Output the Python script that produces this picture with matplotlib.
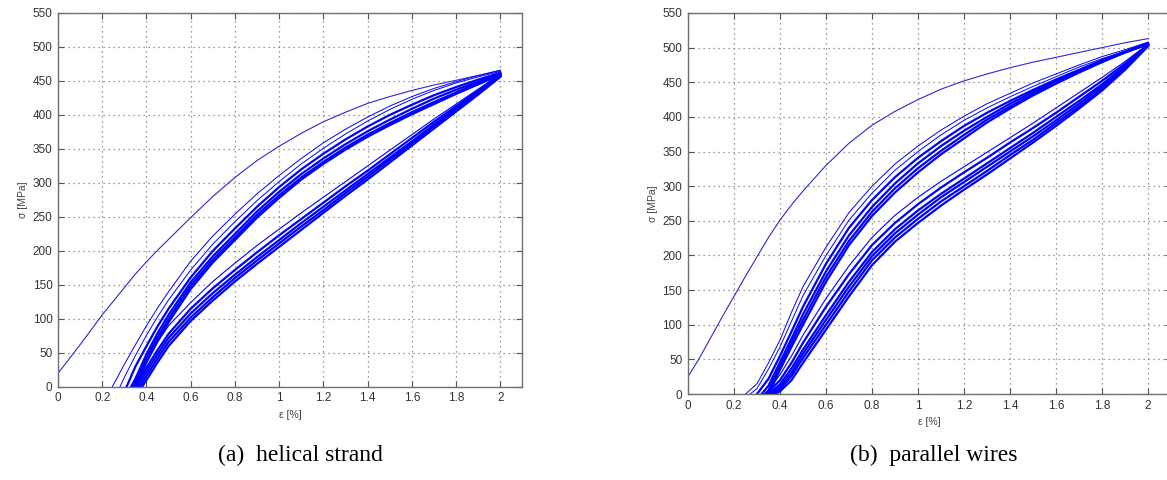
import numpy as np
import matplotlib
matplotlib.use('Agg')
import matplotlib.pyplot as plt

N = np.nan

# strain grid [%] shared by all loops (first loading has its own, starting at 0)
first_eps = [0.0, 0.05, 0.1, 0.15, 0.2, 0.25, 0.3, 0.35, 0.4, 0.45, 0.5, 0.6, 0.7,
             0.8, 0.9, 1.0, 1.1, 1.2, 1.3, 1.4, 1.5, 1.6, 1.7, 1.8, 1.9, 2.0]
loop_eps = [0.25, 0.3, 0.35, 0.4, 0.45, 0.5, 0.6, 0.7, 0.8, 0.9, 1.0,
            1.1, 1.2, 1.3, 1.4, 1.5, 1.6, 1.7, 1.8, 1.9, 2.0]

# (a) helical strand
first_a = [20, 41, 62, 84, 106, 126, 146, 166, 184, 201, 217, 249, 280, 308, 333,
           354, 373, 390, 404, 417, 427, 436, 444, 451, 458, 465]
reload_a_start = [0.245, 0.28, 0.31, 0.33, 0.34, 0.35]
reload_a = [
    [3, 33, 62, 90, 116, 140, 185, 222, 254, 284, 311, 336, 359, 379, 397, 413, 427, 439, 449, 458, 466],
    [N, 14, 46, 76, 103, 128, 172, 210, 243, 274, 302, 328, 351, 372, 391, 408, 423, 436, 447, 456, 464],
    [N, N, 30, 60, 89, 115, 161, 200, 233, 265, 294, 320, 343, 364, 383, 400, 415, 429, 441, 452, 462],
    [N, N, 12, 48, 79, 106, 154, 192, 225, 258, 287, 313, 336, 357, 376, 393, 409, 424, 437, 449, 461],
    [N, N, 6, 42, 73, 100, 149, 187, 220, 253, 282, 308, 331, 352, 371, 388, 404, 419, 433, 447, 460],
    [N, N, N, 36, 67, 95, 144, 183, 216, 249, 278, 305, 328, 349, 368, 385, 401, 416, 431, 445, 459],
]
unload_a_start = [0.33, 0.35, 0.36, 0.37, 0.38]
unload_a = [
    [N, N, 12, 40, 66, 90, 124, 155, 182, 208, 232, 256, 279, 302, 325, 348, 371, 394, 416, 438, 460],
    [N, N, N, 28, 54, 78, 115, 145, 172, 198, 223, 247, 271, 295, 318, 342, 366, 390, 413, 436, 459],
    [N, N, N, 22, 48, 72, 108, 138, 165, 191, 216, 241, 265, 289, 313, 337, 361, 386, 410, 434, 458],
    [N, N, N, 16, 42, 66, 102, 132, 160, 186, 211, 236, 260, 285, 309, 334, 358, 383, 408, 432, 457],
    [N, N, N, 10, 36, 60, 97, 127, 155, 181, 206, 231, 256, 281, 305, 330, 355, 380, 405, 430, 456],
]

# (b) parallel wires
first_b = [25, 52, 82, 112, 141, 170, 198, 226, 251, 273, 293, 330, 362, 388, 408,
           425, 440, 452, 462, 471, 479, 486, 493, 500, 507, 513]
reload_b_start = [0.25, 0.27, 0.30, 0.32, 0.335, 0.35]
reload_b = [
    [N, 15, 45, 78, 118, 155, 212, 262, 300, 332, 358, 381, 401, 419, 434, 449, 462, 475, 487, 497, 508],
    [N, 8, 36, 68, 105, 142, 200, 251, 290, 323, 350, 374, 395, 413, 429, 444, 458, 472, 484, 495, 507],
    [N, N, 22, 55, 90, 126, 188, 240, 280, 313, 341, 365, 387, 406, 423, 439, 454, 468, 482, 494, 506],
    [N, N, 12, 46, 80, 115, 177, 229, 270, 304, 333, 358, 380, 400, 419, 436, 452, 467, 481, 494, 506],
    [N, N, 5, 40, 74, 107, 169, 221, 263, 297, 326, 351, 374, 396, 415, 433, 450, 466, 480, 493, 505],
    [N, N, N, 35, 68, 100, 162, 215, 257, 291, 320, 346, 369, 392, 412, 431, 448, 464, 479, 493, 505],
]
unload_b_start = [0.33, 0.34, 0.35, 0.36, 0.37, 0.38]
unload_b = [
    [N, N, 6, 28, 55, 85, 138, 185, 226, 258, 284, 307, 328, 349, 370, 391, 413, 435, 457, 480, 505],
    [N, N, 3, 20, 45, 74, 126, 173, 215, 247, 274, 298, 320, 341, 363, 384, 406, 429, 452, 477, 504],
    [N, N, N, 14, 37, 64, 114, 162, 205, 238, 265, 289, 311, 333, 355, 377, 400, 423, 447, 474, 504],
    [N, N, N, 10, 31, 58, 107, 155, 199, 232, 259, 284, 306, 328, 350, 372, 395, 419, 444, 472, 503],
    [N, N, N, 7, 26, 52, 100, 148, 193, 226, 253, 278, 300, 322, 345, 367, 391, 415, 441, 470, 503],
    [N, N, N, 4, 20, 45, 93, 141, 186, 220, 247, 272, 295, 317, 340, 363, 387, 412, 438, 468, 502],
]

xtick_vals = [0, 0.2, 0.4, 0.6, 0.8, 1.0, 1.2, 1.4, 1.6, 1.8, 2.0]
xtick_labels = ['0', '0.2', '0.4', '0.6', '0.8', '1', '1.2', '1.4', '1.6', '1.8', '2']
ytick_vals = list(range(0, 551, 50))


def draw_loop(ax, start, values, lw):
    eps = np.array(loop_eps)
    sig = np.array(values, dtype=float)
    keep = ~np.isnan(sig)
    x = np.concatenate([[start], eps[keep]])
    y = np.concatenate([[0], sig[keep]])
    ax.plot(x, y, color='#0000ff', lw=lw, solid_joinstyle='round')


def draw_panel(ax, first, r_start, reloads, u_start, unloads):
    ax.plot(first_eps, first, color='#2a2ad0', lw=0.8)
    for i, (s, v) in enumerate(zip(r_start, reloads)):
        draw_loop(ax, s, v, 0.7 if i < 2 else 1.6)
    for i, (s, v) in enumerate(zip(u_start, unloads)):
        draw_loop(ax, s, v, 0.8 if i == 0 else 1.6)

    ax.set_xlim(0, 2.1)
    ax.set_ylim(0, 550)
    ax.set_xticks(xtick_vals)
    ax.set_xticklabels(xtick_labels)
    ax.set_yticks(ytick_vals)
    ax.grid(True, linestyle=(0, (1, 3)), color='#7a7a7a', lw=0.9)
    ax.tick_params(direction='in', top=True, right=True, length=4, width=0.8,
                   color='#555555', labelcolor='#333333', labelsize=8.5, pad=4)
    for sp in ax.spines.values():
        sp.set_color('#707070')
        sp.set_linewidth(1.0)
    ax.set_xlabel('ε [%]', fontsize=7.5, color='#444444', labelpad=4)
    ax.set_ylabel('σ [MPa]', fontsize=7.5, color='#444444', labelpad=3)


plt.rcParams['font.family'] = ['Liberation Sans', 'DejaVu Sans']

fig = plt.figure(figsize=(11.67, 4.8), dpi=100)
ax1 = fig.add_axes([0.0497, 0.194, 0.398, 0.779])
ax2 = fig.add_axes([0.5895, 0.179, 0.414, 0.794])

draw_panel(ax1, first_a, reload_a_start, reload_a, unload_a_start, unload_a)
draw_panel(ax2, first_b, reload_b_start, reload_b, unload_b_start, unload_b)

fig.text(300 / 1167, 1 - 455 / 480, '(a)  helical strand', ha='center', va='center',
         fontsize=17, family='Liberation Serif')
fig.text(934 / 1167, 1 - 455 / 480, '(b)  parallel wires', ha='center', va='center',
         fontsize=17, family='Liberation Serif')

fig.savefig('out.png', dpi=100)
